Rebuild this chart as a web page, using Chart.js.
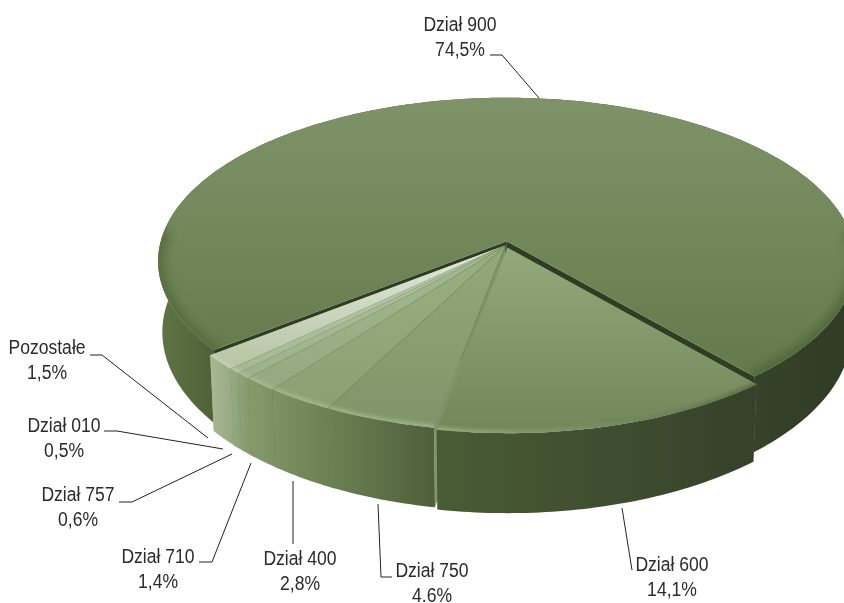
<!DOCTYPE html>
<html lang="pl">
<head>
<meta charset="utf-8">
<style>
  html, body { margin: 0; padding: 0; background: #fff; }
  canvas { display: block; }
</style>
<script src="https://cdn.jsdelivr.net/npm/chart.js@4"></script>
</head>
<body>
<canvas class="myChart" width="844" height="603"></canvas>
<script>
const categories = ["Dział 900", "Dział 600", "Dział 750", "Dział 400", "Dział 710", "Dział 757", "Dział 010", "Pozostałe"];
const shares = [74.5, 14.1, 4.6, 2.8, 1.4, 0.6, 0.5, 1.5];
const shareLabels = ["74,5%", "14,1%", "4.6%", "2,8%", "1,4%", "0,6%", "0,5%", "1,5%"];
const explode = [7, 5, 2, 2, 2, 2, 2, 2];

// slice styling, same order as categories: [apex, rim]
const topColors = [
  ["#7f9369", "#647a4b"], ["#93a97b", "#71875a"], ["#93a97b", "#7f9569"], ["#9ab083", "#8aa073"],
  ["#a6b992", "#94a980"], ["#b3c3a1", "#9cb089"], ["#bfcdb0", "#a4b692"], ["#e4eadc", "#b5c4a3"],
];
// outer wall: [left, right]
const wallColors = [
  ["#5f7545", "#2f3b24"], ["#4a5c36", "#35412a"], ["#6c8153", "#4f5f3a"], ["#7d9265", "#6c8153"],
  ["#869a6e", "#7d9265"], ["#8fa37a", "#869a6e"], ["#98aa83", "#8fa37a"], ["#a9b894", "#98aa83"],
];
// soft band along the rim: [left, right]
const rimColors = [
  ["#566c3f", "#52663c"], ["#a0b48a", "#55693f"], ["#a3b78c", "#a3b78c"], ["#a7ba91", "#a7ba91"],
  ["#aabd95", "#aabd95"], ["#b0c19c", "#b0c19c"], ["#bac9a8", "#bac9a8"], ["#c6d3b7", "#c6d3b7"],
];
const edgeColors = ["#2f3d22", "#7f9569", "#7f9569", "#7d9265", "#869a6e", "#8fa37a", "#98aa83", "#a9b894"];

// label placement: [centre x, first line y]
const labelPos = [[460, 26], [672, 566], [432, 572], [300, 560], [158, 558], [78, 496], [64, 427], [47, 349]];
const leaderLines = [
  [[490, 55], [502, 55], [539, 98]],
  [[632, 570], [622, 508]],
  [[392, 577], [381, 577], [378, 504]],
  [[293, 544], [293, 481]],
  [[199, 562], [212, 562], [251, 463]],
  [[119, 502], [132, 502], [232, 454]],
  [[104, 431], [117, 431], [223, 449]],
  [[90, 355], [102, 355], [208, 438]],
];

// view of the disc
const view = { cx: 506, cy: 245, rx: 347, ry: 162, k: 0.123, depth: 70, taper: 0.012 };

function project(x, y, h) {
  const w = 1 - view.k * y;
  const s = 1 - view.taper * (h / view.depth);
  return [view.cx + (view.rx * x * s) / w, view.cy + (view.ry * y + h) / w];
}

function arcPoints(a0, a1, ox, oy, h) {
  const pts = [];
  const n = Math.max(4, Math.ceil(Math.abs(a1 - a0) * 60));
  for (let i = 0; i <= n; i++) {
    const a = a0 + ((a1 - a0) * i) / n;
    pts.push(project(Math.cos(a) + ox, Math.sin(a) + oy, h));
  }
  return pts;
}

function tracePoly(ctx, pts) {
  ctx.beginPath();
  pts.forEach((p, i) => (i ? ctx.lineTo(p[0], p[1]) : ctx.moveTo(p[0], p[1])));
  ctx.closePath();
}

function drawSlice(ctx, el, i) {
  const { startAngle, endAngle, outerRadius } = el.getProps(["startAngle", "endAngle", "outerRadius"]);
  const mid = (startAngle + endAngle) / 2;
  const off = el.options.offset / outerRadius;
  const ox = Math.cos(mid) * off;
  const oy = Math.sin(mid) * off;
  const apexTop = project(ox, oy, 0);
  const apexBottom = project(ox, oy, view.depth);
  const rimTop = arcPoints(startAngle, endAngle, ox, oy, 0);
  const rimBottom = arcPoints(startAngle, endAngle, ox, oy, view.depth);
  const angleAt = (j) => startAngle + ((endAngle - startAngle) * j) / (rimTop.length - 1);
  const isFront = (j) => Math.sin(angleAt(j)) > -0.05;
  const xs = rimTop.filter((p, j) => isFront(j)).map((p) => p[0]);
  const x0 = Math.min(...xs);
  const x1 = Math.max(...xs);

  // the two cut faces
  ctx.fillStyle = edgeColors[i];
  [rimTop[0], rimTop[rimTop.length - 1]].forEach((p, j) => {
    const q = j ? rimBottom[rimBottom.length - 1] : rimBottom[0];
    tracePoly(ctx, [apexTop, p, q, apexBottom]);
    ctx.fill();
  });

  // outer wall, small slices run a little under their neighbour so no slit shows
  const wall = ctx.createLinearGradient(x0, 0, x1, 0);
  wall.addColorStop(0, wallColors[i][0]);
  if (i === 0) {
    wall.addColorStop(0.08, "#4e6138");
    wall.addColorStop(0.87, "#35422a");
  }
  wall.addColorStop(1, wallColors[i][1]);
  ctx.fillStyle = wall;
  const wallStart = i > 2 ? startAngle - 0.015 : startAngle;
  const wallTop = arcPoints(wallStart, endAngle, ox, oy, 0);
  const wallBottom = arcPoints(wallStart, endAngle, ox, oy, view.depth);
  tracePoly(ctx, wallTop.concat(wallBottom.reverse()));
  ctx.fill();

  // top face
  const face = ctx.createLinearGradient(0, i === 0 ? 97 : apexTop[1], 0, Math.max(...rimTop.map((p) => p[1])));
  face.addColorStop(0, topColors[i][0]);
  face.addColorStop(1, topColors[i][1]);
  ctx.fillStyle = face;
  tracePoly(ctx, [apexTop].concat(rimTop));
  ctx.fill();

  // soft bevel along the front of the rim
  const band = ctx.createLinearGradient(x0, 0, x1, 0);
  band.addColorStop(0, rimColors[i][0]);
  band.addColorStop(1, rimColors[i][1]);
  ctx.save();
  tracePoly(ctx, [apexTop].concat(rimTop));
  ctx.clip();
  ctx.filter = i === 0 ? "blur(5px)" : "blur(2px)";
  ctx.strokeStyle = band;
  ctx.lineWidth = i === 0 ? 12 : 5;
  ctx.lineCap = "round";
  ctx.beginPath();
  let drawing = false;
  rimTop.forEach((p, j) => {
    if (!isFront(j)) {
      drawing = false;
      return;
    }
    if (drawing) ctx.lineTo(p[0], p[1]);
    else ctx.moveTo(p[0], p[1]);
    drawing = true;
  });
  ctx.stroke();
  ctx.restore();

  // thin crease between neighbouring slices
  if (i > 1) {
    ctx.strokeStyle = "rgba(95,120,70,0.55)";
    ctx.lineWidth = 1;
    ctx.beginPath();
    ctx.moveTo(apexTop[0], apexTop[1]);
    ctx.lineTo(rimTop[0][0], rimTop[0][1]);
    ctx.stroke();
  }
  if (i > 2) {
    ctx.strokeStyle = "rgba(95,120,70,0.35)";
    ctx.beginPath();
    ctx.moveTo(rimTop[0][0], rimTop[0][1]);
    ctx.lineTo(rimBottom[0][0], rimBottom[0][1] - 1);
    ctx.stroke();
  }
}

function drawLabel(ctx, text, x, y) {
  ctx.save();
  ctx.translate(x, y);
  ctx.scale(0.9, 1);
  ctx.fillText(text, 0, 0);
  ctx.restore();
}

const disc3d = {
  id: "disc3d",
  beforeDatasetsDraw(chart) {
    const ctx = chart.ctx;
    const arcs = chart.getDatasetMeta(0).data;
    ctx.save();
    // back to front: big slice, then the small group towards the viewer
    [0, 7, 6, 5, 4, 3, 2, 1].forEach((i) => drawSlice(ctx, arcs[i], i));

    ctx.strokeStyle = "#222";
    ctx.lineWidth = 1;
    leaderLines.forEach((line) => {
      ctx.beginPath();
      line.forEach((p, i) => (i ? ctx.lineTo(p[0], p[1]) : ctx.moveTo(p[0], p[1])));
      ctx.stroke();
    });

    ctx.fillStyle = "#2b2b2b";
    ctx.font = '19.5px "Liberation Sans"';
    ctx.textAlign = "center";
    ctx.textBaseline = "middle";
    categories.forEach((name, i) => {
      drawLabel(ctx, name, labelPos[i][0], labelPos[i][1]);
      drawLabel(ctx, shareLabels[i], labelPos[i][0], labelPos[i][1] + 25);
    });
    ctx.restore();
    return false;
  },
};

new Chart(document.querySelector(".myChart").getContext("2d"), {
  type: "pie",
  data: {
    labels: categories,
    datasets: [{ data: shares, offset: explode }],
  },
  options: {
    responsive: false,
    animation: false,
    rotation: 231.4,
    layout: { padding: 0 },
    plugins: { legend: { display: false }, tooltip: { enabled: false } },
  },
  plugins: [disc3d],
});
</script>
</body>
</html>
